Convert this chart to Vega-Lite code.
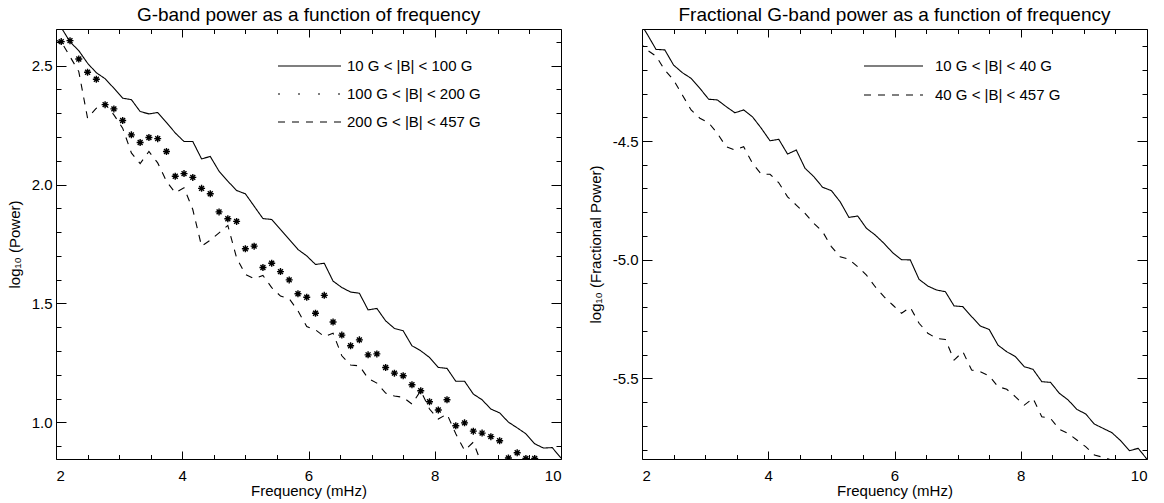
{
"$schema": "https://vega.github.io/schema/vega-lite/v6.json",
"background": "white",
"padding": {"left": 6, "top": 5, "right": 4, "bottom": 4},
"spacing": 25,
"resolve": {"scale": {"strokeDash": "independent"}, "legend": {"strokeDash": "independent"}},
"config": {
  "font": "Liberation Sans",
  "view": {"stroke": "black", "strokeWidth": 1},
  "axis": {"labelFont": "Liberation Sans", "labelFontSize": 15, "labelColor": "black", "titleFont": "Liberation Sans", "titleFontSize": 15, "titleFontWeight": "normal", "titleColor": "black", "grid": false, "domain": false, "tickColor": "black", "tickWidth": 1, "minExtent": 0},
  "title": {"font": "Liberation Sans", "fontSize": 19, "fontWeight": "normal", "color": "black", "frame": "group", "anchor": "middle"},
  "legend": {"labelFont": "Liberation Sans", "labelFontSize": 15, "labelColor": "black", "symbolStrokeColor": "black", "symbolStrokeWidth": 1.1, "padding": 0}
},
"datasets": {
  "leftLines": [
    {"f":2.083,"v":2.66,"s":"10 G < |B| < 100 G"},{"f":2.222,"v":2.60,"s":"10 G < |B| < 100 G"},{"f":2.361,"v":2.563,"s":"10 G < |B| < 100 G"},{"f":2.5,"v":2.51,"s":"10 G < |B| < 100 G"},{"f":2.639,"v":2.47,"s":"10 G < |B| < 100 G"},{"f":2.778,"v":2.445,"s":"10 G < |B| < 100 G"},{"f":2.917,"v":2.405,"s":"10 G < |B| < 100 G"},{"f":3.056,"v":2.363,"s":"10 G < |B| < 100 G"},{"f":3.194,"v":2.357,"s":"10 G < |B| < 100 G"},{"f":3.333,"v":2.307,"s":"10 G < |B| < 100 G"},{"f":3.472,"v":2.297,"s":"10 G < |B| < 100 G"},{"f":3.611,"v":2.303,"s":"10 G < |B| < 100 G"},{"f":3.75,"v":2.261,"s":"10 G < |B| < 100 G"},{"f":3.889,"v":2.217,"s":"10 G < |B| < 100 G"},{"f":4.028,"v":2.181,"s":"10 G < |B| < 100 G"},{"f":4.167,"v":2.181,"s":"10 G < |B| < 100 G"},{"f":4.306,"v":2.108,"s":"10 G < |B| < 100 G"},{"f":4.444,"v":2.118,"s":"10 G < |B| < 100 G"},{"f":4.583,"v":2.056,"s":"10 G < |B| < 100 G"},{"f":4.722,"v":2.014,"s":"10 G < |B| < 100 G"},{"f":4.861,"v":1.975,"s":"10 G < |B| < 100 G"},{"f":5.0,"v":1.961,"s":"10 G < |B| < 100 G"},{"f":5.139,"v":1.909,"s":"10 G < |B| < 100 G"},{"f":5.278,"v":1.857,"s":"10 G < |B| < 100 G"},{"f":5.417,"v":1.853,"s":"10 G < |B| < 100 G"},{"f":5.556,"v":1.811,"s":"10 G < |B| < 100 G"},{"f":5.694,"v":1.769,"s":"10 G < |B| < 100 G"},{"f":5.833,"v":1.727,"s":"10 G < |B| < 100 G"},{"f":5.972,"v":1.70,"s":"10 G < |B| < 100 G"},{"f":6.111,"v":1.664,"s":"10 G < |B| < 100 G"},{"f":6.25,"v":1.669,"s":"10 G < |B| < 100 G"},{"f":6.389,"v":1.594,"s":"10 G < |B| < 100 G"},{"f":6.528,"v":1.567,"s":"10 G < |B| < 100 G"},{"f":6.667,"v":1.548,"s":"10 G < |B| < 100 G"},{"f":6.806,"v":1.543,"s":"10 G < |B| < 100 G"},{"f":6.944,"v":1.473,"s":"10 G < |B| < 100 G"},{"f":7.083,"v":1.479,"s":"10 G < |B| < 100 G"},{"f":7.222,"v":1.427,"s":"10 G < |B| < 100 G"},{"f":7.361,"v":1.395,"s":"10 G < |B| < 100 G"},{"f":7.5,"v":1.385,"s":"10 G < |B| < 100 G"},{"f":7.639,"v":1.322,"s":"10 G < |B| < 100 G"},{"f":7.778,"v":1.301,"s":"10 G < |B| < 100 G"},{"f":7.917,"v":1.273,"s":"10 G < |B| < 100 G"},{"f":8.056,"v":1.231,"s":"10 G < |B| < 100 G"},{"f":8.194,"v":1.227,"s":"10 G < |B| < 100 G"},{"f":8.333,"v":1.173,"s":"10 G < |B| < 100 G"},{"f":8.472,"v":1.173,"s":"10 G < |B| < 100 G"},{"f":8.611,"v":1.119,"s":"10 G < |B| < 100 G"},{"f":8.75,"v":1.095,"s":"10 G < |B| < 100 G"},{"f":8.889,"v":1.056,"s":"10 G < |B| < 100 G"},{"f":9.028,"v":1.040,"s":"10 G < |B| < 100 G"},{"f":9.167,"v":1.001,"s":"10 G < |B| < 100 G"},{"f":9.306,"v":0.977,"s":"10 G < |B| < 100 G"},{"f":9.444,"v":0.952,"s":"10 G < |B| < 100 G"},{"f":9.583,"v":0.910,"s":"10 G < |B| < 100 G"},{"f":9.722,"v":0.892,"s":"10 G < |B| < 100 G"},{"f":9.861,"v":0.894,"s":"10 G < |B| < 100 G"},{"f":10.0,"v":0.850,"s":"10 G < |B| < 100 G"},
    {"f":1.944,"v":2.61,"s":"200 G < |B| < 457 G"},{"f":2.083,"v":2.60,"s":"200 G < |B| < 457 G"},{"f":2.222,"v":2.538,"s":"200 G < |B| < 457 G"},{"f":2.361,"v":2.475,"s":"200 G < |B| < 457 G"},{"f":2.5,"v":2.279,"s":"200 G < |B| < 457 G"},{"f":2.639,"v":2.321,"s":"200 G < |B| < 457 G"},{"f":2.778,"v":2.339,"s":"200 G < |B| < 457 G"},{"f":2.917,"v":2.293,"s":"200 G < |B| < 457 G"},{"f":3.056,"v":2.237,"s":"200 G < |B| < 457 G"},{"f":3.194,"v":2.133,"s":"200 G < |B| < 457 G"},{"f":3.333,"v":2.088,"s":"200 G < |B| < 457 G"},{"f":3.472,"v":2.139,"s":"200 G < |B| < 457 G"},{"f":3.611,"v":2.091,"s":"200 G < |B| < 457 G"},{"f":3.75,"v":2.014,"s":"200 G < |B| < 457 G"},{"f":3.889,"v":1.965,"s":"200 G < |B| < 457 G"},{"f":4.028,"v":1.986,"s":"200 G < |B| < 457 G"},{"f":4.167,"v":1.895,"s":"200 G < |B| < 457 G"},{"f":4.306,"v":1.741,"s":"200 G < |B| < 457 G"},{"f":4.444,"v":1.766,"s":"200 G < |B| < 457 G"},{"f":4.583,"v":1.797,"s":"200 G < |B| < 457 G"},{"f":4.722,"v":1.828,"s":"200 G < |B| < 457 G"},{"f":4.861,"v":1.692,"s":"200 G < |B| < 457 G"},{"f":5.0,"v":1.622,"s":"200 G < |B| < 457 G"},{"f":5.139,"v":1.604,"s":"200 G < |B| < 457 G"},{"f":5.278,"v":1.618,"s":"200 G < |B| < 457 G"},{"f":5.417,"v":1.567,"s":"200 G < |B| < 457 G"},{"f":5.556,"v":1.531,"s":"200 G < |B| < 457 G"},{"f":5.694,"v":1.52,"s":"200 G < |B| < 457 G"},{"f":5.833,"v":1.469,"s":"200 G < |B| < 457 G"},{"f":5.972,"v":1.403,"s":"200 G < |B| < 457 G"},{"f":6.111,"v":1.389,"s":"200 G < |B| < 457 G"},{"f":6.25,"v":1.361,"s":"200 G < |B| < 457 G"},{"f":6.389,"v":1.375,"s":"200 G < |B| < 457 G"},{"f":6.528,"v":1.280,"s":"200 G < |B| < 457 G"},{"f":6.667,"v":1.241,"s":"200 G < |B| < 457 G"},{"f":6.806,"v":1.238,"s":"200 G < |B| < 457 G"},{"f":6.944,"v":1.185,"s":"200 G < |B| < 457 G"},{"f":7.083,"v":1.165,"s":"200 G < |B| < 457 G"},{"f":7.222,"v":1.123,"s":"200 G < |B| < 457 G"},{"f":7.361,"v":1.111,"s":"200 G < |B| < 457 G"},{"f":7.5,"v":1.105,"s":"200 G < |B| < 457 G"},{"f":7.639,"v":1.077,"s":"200 G < |B| < 457 G"},{"f":7.778,"v":1.133,"s":"200 G < |B| < 457 G"},{"f":7.917,"v":1.056,"s":"200 G < |B| < 457 G"},{"f":8.056,"v":1.014,"s":"200 G < |B| < 457 G"},{"f":8.194,"v":1.035,"s":"200 G < |B| < 457 G"},{"f":8.333,"v":0.952,"s":"200 G < |B| < 457 G"},{"f":8.472,"v":0.882,"s":"200 G < |B| < 457 G"},{"f":8.611,"v":0.917,"s":"200 G < |B| < 457 G"},{"f":8.75,"v":0.82,"s":"200 G < |B| < 457 G"},{"f":8.889,"v":0.79,"s":"200 G < |B| < 457 G"},{"f":9.028,"v":0.77,"s":"200 G < |B| < 457 G"},{"f":9.167,"v":0.74,"s":"200 G < |B| < 457 G"},{"f":9.306,"v":0.72,"s":"200 G < |B| < 457 G"},{"f":9.444,"v":0.70,"s":"200 G < |B| < 457 G"},{"f":9.583,"v":0.68,"s":"200 G < |B| < 457 G"},{"f":9.722,"v":0.66,"s":"200 G < |B| < 457 G"},{"f":9.861,"v":0.64,"s":"200 G < |B| < 457 G"},{"f":10.0,"v":0.62,"s":"200 G < |B| < 457 G"}
  ],
  "leftStars": [
    {"f":2.083,"v":2.601},{"f":2.222,"v":2.605},{"f":2.361,"v":2.528},{"f":2.5,"v":2.472},{"f":2.639,"v":2.443},{"f":2.778,"v":2.336},{"f":2.917,"v":2.318},{"f":3.056,"v":2.269},{"f":3.194,"v":2.209},{"f":3.333,"v":2.177},{"f":3.472,"v":2.198},{"f":3.611,"v":2.193},{"f":3.75,"v":2.139},{"f":3.889,"v":2.035},{"f":4.028,"v":2.046},{"f":4.167,"v":2.030},{"f":4.306,"v":1.984},{"f":4.444,"v":1.961},{"f":4.583,"v":1.885},{"f":4.722,"v":1.856},{"f":4.861,"v":1.845},{"f":5.0,"v":1.730},{"f":5.139,"v":1.741},{"f":5.278,"v":1.651},{"f":5.417,"v":1.669},{"f":5.556,"v":1.634},{"f":5.694,"v":1.599},{"f":5.833,"v":1.541},{"f":5.972,"v":1.526},{"f":6.111,"v":1.459},{"f":6.25,"v":1.534},{"f":6.389,"v":1.422},{"f":6.528,"v":1.367},{"f":6.667,"v":1.322},{"f":6.806,"v":1.347},{"f":6.944,"v":1.284},{"f":7.083,"v":1.288},{"f":7.222,"v":1.231},{"f":7.361,"v":1.207},{"f":7.5,"v":1.196},{"f":7.639,"v":1.158},{"f":7.778,"v":1.133},{"f":7.917,"v":1.087},{"f":8.056,"v":1.052},{"f":8.194,"v":1.095},{"f":8.333,"v":0.986},{"f":8.472,"v":0.998},{"f":8.611,"v":0.963},{"f":8.75,"v":0.955},{"f":8.889,"v":0.940},{"f":9.028,"v":0.923},{"f":9.167,"v":0.850},{"f":9.306,"v":0.872},{"f":9.444,"v":0.848},{"f":9.583,"v":0.848},{"f":9.722,"v":0.82},{"f":9.861,"v":0.80},{"f":10.0,"v":0.78}
  ],
  "rightLines": [
    {"f":1.944,"v":-3.99,"s":"10 G < |B| < 40 G"},{"f":2.083,"v":-4.05,"s":"10 G < |B| < 40 G"},{"f":2.222,"v":-4.114,"s":"10 G < |B| < 40 G"},{"f":2.361,"v":-4.116,"s":"10 G < |B| < 40 G"},{"f":2.5,"v":-4.180,"s":"10 G < |B| < 40 G"},{"f":2.639,"v":-4.212,"s":"10 G < |B| < 40 G"},{"f":2.778,"v":-4.236,"s":"10 G < |B| < 40 G"},{"f":2.917,"v":-4.278,"s":"10 G < |B| < 40 G"},{"f":3.056,"v":-4.324,"s":"10 G < |B| < 40 G"},{"f":3.194,"v":-4.327,"s":"10 G < |B| < 40 G"},{"f":3.333,"v":-4.355,"s":"10 G < |B| < 40 G"},{"f":3.472,"v":-4.381,"s":"10 G < |B| < 40 G"},{"f":3.611,"v":-4.369,"s":"10 G < |B| < 40 G"},{"f":3.75,"v":-4.398,"s":"10 G < |B| < 40 G"},{"f":3.889,"v":-4.446,"s":"10 G < |B| < 40 G"},{"f":4.028,"v":-4.499,"s":"10 G < |B| < 40 G"},{"f":4.167,"v":-4.493,"s":"10 G < |B| < 40 G"},{"f":4.306,"v":-4.555,"s":"10 G < |B| < 40 G"},{"f":4.444,"v":-4.538,"s":"10 G < |B| < 40 G"},{"f":4.583,"v":-4.615,"s":"10 G < |B| < 40 G"},{"f":4.722,"v":-4.650,"s":"10 G < |B| < 40 G"},{"f":4.861,"v":-4.695,"s":"10 G < |B| < 40 G"},{"f":5.0,"v":-4.709,"s":"10 G < |B| < 40 G"},{"f":5.139,"v":-4.756,"s":"10 G < |B| < 40 G"},{"f":5.278,"v":-4.822,"s":"10 G < |B| < 40 G"},{"f":5.417,"v":-4.816,"s":"10 G < |B| < 40 G"},{"f":5.556,"v":-4.868,"s":"10 G < |B| < 40 G"},{"f":5.694,"v":-4.896,"s":"10 G < |B| < 40 G"},{"f":5.833,"v":-4.931,"s":"10 G < |B| < 40 G"},{"f":5.972,"v":-4.971,"s":"10 G < |B| < 40 G"},{"f":6.111,"v":-5.000,"s":"10 G < |B| < 40 G"},{"f":6.25,"v":-5.001,"s":"10 G < |B| < 40 G"},{"f":6.389,"v":-5.083,"s":"10 G < |B| < 40 G"},{"f":6.528,"v":-5.111,"s":"10 G < |B| < 40 G"},{"f":6.667,"v":-5.128,"s":"10 G < |B| < 40 G"},{"f":6.806,"v":-5.135,"s":"10 G < |B| < 40 G"},{"f":6.944,"v":-5.195,"s":"10 G < |B| < 40 G"},{"f":7.083,"v":-5.198,"s":"10 G < |B| < 40 G"},{"f":7.222,"v":-5.240,"s":"10 G < |B| < 40 G"},{"f":7.361,"v":-5.280,"s":"10 G < |B| < 40 G"},{"f":7.5,"v":-5.294,"s":"10 G < |B| < 40 G"},{"f":7.639,"v":-5.360,"s":"10 G < |B| < 40 G"},{"f":7.778,"v":-5.388,"s":"10 G < |B| < 40 G"},{"f":7.917,"v":-5.409,"s":"10 G < |B| < 40 G"},{"f":8.056,"v":-5.451,"s":"10 G < |B| < 40 G"},{"f":8.194,"v":-5.462,"s":"10 G < |B| < 40 G"},{"f":8.333,"v":-5.514,"s":"10 G < |B| < 40 G"},{"f":8.472,"v":-5.517,"s":"10 G < |B| < 40 G"},{"f":8.611,"v":-5.563,"s":"10 G < |B| < 40 G"},{"f":8.75,"v":-5.591,"s":"10 G < |B| < 40 G"},{"f":8.889,"v":-5.631,"s":"10 G < |B| < 40 G"},{"f":9.028,"v":-5.650,"s":"10 G < |B| < 40 G"},{"f":9.167,"v":-5.693,"s":"10 G < |B| < 40 G"},{"f":9.306,"v":-5.711,"s":"10 G < |B| < 40 G"},{"f":9.444,"v":-5.729,"s":"10 G < |B| < 40 G"},{"f":9.583,"v":-5.763,"s":"10 G < |B| < 40 G"},{"f":9.722,"v":-5.805,"s":"10 G < |B| < 40 G"},{"f":9.861,"v":-5.795,"s":"10 G < |B| < 40 G"},{"f":10.0,"v":-5.841,"s":"10 G < |B| < 40 G"},
    {"f":1.944,"v":-4.08,"s":"40 G < |B| < 457 G"},{"f":2.083,"v":-4.117,"s":"40 G < |B| < 457 G"},{"f":2.222,"v":-4.142,"s":"40 G < |B| < 457 G"},{"f":2.361,"v":-4.201,"s":"40 G < |B| < 457 G"},{"f":2.5,"v":-4.243,"s":"40 G < |B| < 457 G"},{"f":2.639,"v":-4.306,"s":"40 G < |B| < 457 G"},{"f":2.778,"v":-4.369,"s":"40 G < |B| < 457 G"},{"f":2.917,"v":-4.404,"s":"40 G < |B| < 457 G"},{"f":3.056,"v":-4.423,"s":"40 G < |B| < 457 G"},{"f":3.194,"v":-4.468,"s":"40 G < |B| < 457 G"},{"f":3.333,"v":-4.524,"s":"40 G < |B| < 457 G"},{"f":3.472,"v":-4.538,"s":"40 G < |B| < 457 G"},{"f":3.611,"v":-4.524,"s":"40 G < |B| < 457 G"},{"f":3.75,"v":-4.594,"s":"40 G < |B| < 457 G"},{"f":3.889,"v":-4.640,"s":"40 G < |B| < 457 G"},{"f":4.028,"v":-4.640,"s":"40 G < |B| < 457 G"},{"f":4.167,"v":-4.676,"s":"40 G < |B| < 457 G"},{"f":4.306,"v":-4.735,"s":"40 G < |B| < 457 G"},{"f":4.444,"v":-4.770,"s":"40 G < |B| < 457 G"},{"f":4.583,"v":-4.805,"s":"40 G < |B| < 457 G"},{"f":4.722,"v":-4.847,"s":"40 G < |B| < 457 G"},{"f":4.861,"v":-4.882,"s":"40 G < |B| < 457 G"},{"f":5.0,"v":-4.945,"s":"40 G < |B| < 457 G"},{"f":5.139,"v":-4.988,"s":"40 G < |B| < 457 G"},{"f":5.278,"v":-4.998,"s":"40 G < |B| < 457 G"},{"f":5.417,"v":-5.030,"s":"40 G < |B| < 457 G"},{"f":5.556,"v":-5.065,"s":"40 G < |B| < 457 G"},{"f":5.694,"v":-5.114,"s":"40 G < |B| < 457 G"},{"f":5.833,"v":-5.156,"s":"40 G < |B| < 457 G"},{"f":5.972,"v":-5.191,"s":"40 G < |B| < 457 G"},{"f":6.111,"v":-5.226,"s":"40 G < |B| < 457 G"},{"f":6.25,"v":-5.201,"s":"40 G < |B| < 457 G"},{"f":6.389,"v":-5.268,"s":"40 G < |B| < 457 G"},{"f":6.528,"v":-5.310,"s":"40 G < |B| < 457 G"},{"f":6.667,"v":-5.332,"s":"40 G < |B| < 457 G"},{"f":6.806,"v":-5.336,"s":"40 G < |B| < 457 G"},{"f":6.944,"v":-5.423,"s":"40 G < |B| < 457 G"},{"f":7.083,"v":-5.388,"s":"40 G < |B| < 457 G"},{"f":7.222,"v":-5.465,"s":"40 G < |B| < 457 G"},{"f":7.361,"v":-5.472,"s":"40 G < |B| < 457 G"},{"f":7.5,"v":-5.490,"s":"40 G < |B| < 457 G"},{"f":7.639,"v":-5.535,"s":"40 G < |B| < 457 G"},{"f":7.778,"v":-5.546,"s":"40 G < |B| < 457 G"},{"f":7.917,"v":-5.578,"s":"40 G < |B| < 457 G"},{"f":8.056,"v":-5.613,"s":"40 G < |B| < 457 G"},{"f":8.194,"v":-5.584,"s":"40 G < |B| < 457 G"},{"f":8.333,"v":-5.662,"s":"40 G < |B| < 457 G"},{"f":8.472,"v":-5.669,"s":"40 G < |B| < 457 G"},{"f":8.611,"v":-5.715,"s":"40 G < |B| < 457 G"},{"f":8.75,"v":-5.732,"s":"40 G < |B| < 457 G"},{"f":8.889,"v":-5.760,"s":"40 G < |B| < 457 G"},{"f":9.028,"v":-5.788,"s":"40 G < |B| < 457 G"},{"f":9.167,"v":-5.823,"s":"40 G < |B| < 457 G"},{"f":9.306,"v":-5.833,"s":"40 G < |B| < 457 G"},{"f":9.444,"v":-5.845,"s":"40 G < |B| < 457 G"},{"f":9.583,"v":-5.87,"s":"40 G < |B| < 457 G"},{"f":9.722,"v":-5.89,"s":"40 G < |B| < 457 G"},{"f":9.861,"v":-5.91,"s":"40 G < |B| < 457 G"},{"f":10.0,"v":-5.93,"s":"40 G < |B| < 457 G"}
  ]
},
"hconcat": [
  {
    "width": 505, "height": 430,
    "title": {"text": "G-band power as a function of frequency", "offset": 4},
    "resolve": {"axis": {"x": "independent", "y": "independent"}},
    "layer": [
      {
        "data": {"name": "leftLines"},
        "mark": {"type": "line", "color": "black", "strokeWidth": 1.1, "clip": true},
        "encoding": {
          "x": {"field": "f", "type": "quantitative", "scale": {"domain": [2, 10], "nice": false, "zero": false},
                "axis": {"orient": "bottom", "values": [2, 4, 6, 8, 10], "format": "d", "ticks": false, "labelPadding": 9, "title": "Frequency (mHz)", "titlePadding": 0}},
          "y": {"field": "v", "type": "quantitative", "scale": {"domain": [0.846, 2.654], "nice": false, "zero": false},
                "axis": {"orient": "left", "values": [1, 1.5, 2, 2.5], "format": ".1f", "ticks": false, "labelPadding": 4, "title": "log₁₀ (Power)", "titlePadding": 9}},
          "strokeDash": {"field": "s", "type": "nominal",
                "scale": {"domain": ["10 G < |B| < 100 G", "100 G < |B| < 200 G", "200 G < |B| < 457 G"], "range": [[1, 0], [2, 18], [7, 7]]},
                "legend": {"title": null, "orient": "none", "legendX": 221, "legendY": 27, "symbolType": "stroke", "symbolSize": 3969, "clipHeight": 20, "rowPadding": 8, "labelOffset": 5}}
        }
      },
      {
        "data": {"name": "leftStars"},
        "mark": {"type": "point", "shape": "M-1,0H1M0,-1V1M-0.7,-0.7L0.7,0.7M-0.7,0.7L0.7,-0.7", "size": 49, "filled": false, "stroke": "black", "strokeWidth": 1.4, "opacity": 1, "clip": true},
        "encoding": {
          "x": {"field": "f", "type": "quantitative", "axis": {"orient": "bottom", "values": [2, 4, 6, 8, 10], "labels": false, "domain": false, "title": null, "tickSize": -8}},
          "y": {"field": "v", "type": "quantitative", "axis": {"orient": "left", "values": [1, 1.5, 2, 2.5], "labels": false, "domain": false, "title": null, "tickSize": -10}}
        }
      },
      {
        "data": {"name": "leftStars"},
        "mark": {"type": "point", "opacity": 0, "clip": true},
        "encoding": {
          "x": {"field": "f", "type": "quantitative", "axis": {"orient": "bottom", "values": [2.5, 3, 3.5, 4.5, 5, 5.5, 6.5, 7, 7.5, 8.5, 9, 9.5], "labels": false, "domain": false, "title": null, "tickSize": -4.5}},
          "y": {"field": "v", "type": "quantitative", "axis": {"orient": "left", "values": [0.9, 1.1, 1.2, 1.3, 1.4, 1.6, 1.7, 1.8, 1.9, 2.1, 2.2, 2.3, 2.4, 2.6], "labels": false, "domain": false, "title": null, "tickSize": -5}}
        }
      },
      {
        "data": {"name": "leftStars"},
        "mark": {"type": "point", "opacity": 0, "clip": true},
        "encoding": {
          "x": {"field": "f", "type": "quantitative", "axis": {"orient": "top", "values": [2, 4, 6, 8, 10], "labels": false, "domain": false, "title": null, "tickSize": -8}},
          "y": {"field": "v", "type": "quantitative", "axis": {"orient": "right", "values": [1, 1.5, 2, 2.5], "labels": false, "domain": false, "title": null, "tickSize": -10}}
        }
      },
      {
        "data": {"name": "leftStars"},
        "mark": {"type": "point", "opacity": 0, "clip": true},
        "encoding": {
          "x": {"field": "f", "type": "quantitative", "axis": {"orient": "top", "values": [2.5, 3, 3.5, 4.5, 5, 5.5, 6.5, 7, 7.5, 8.5, 9, 9.5], "labels": false, "domain": false, "title": null, "tickSize": -4.5}},
          "y": {"field": "v", "type": "quantitative", "axis": {"orient": "right", "values": [0.9, 1.1, 1.2, 1.3, 1.4, 1.6, 1.7, 1.8, 1.9, 2.1, 2.2, 2.3, 2.4, 2.6], "labels": false, "domain": false, "title": null, "tickSize": -5}}
        }
      }
    ]
  },
  {
    "width": 505, "height": 430,
    "title": {"text": "Fractional G-band power as a function of frequency", "offset": 4},
    "resolve": {"axis": {"x": "independent", "y": "independent"}},
    "layer": [
      {
        "data": {"name": "rightLines"},
        "mark": {"type": "line", "color": "black", "strokeWidth": 1.1, "clip": true},
        "encoding": {
          "x": {"field": "f", "type": "quantitative", "scale": {"domain": [2, 10], "nice": false, "zero": false},
                "axis": {"orient": "bottom", "values": [2, 4, 6, 8, 10], "format": "d", "ticks": false, "labelPadding": 9, "title": "Frequency (mHz)", "titlePadding": 0}},
          "y": {"field": "v", "type": "quantitative", "scale": {"domain": [-5.84, -4.028], "nice": false, "zero": false},
                "axis": {"orient": "left", "values": [-5.5, -5, -4.5], "labelExpr": "replace(format(datum.value, '.1f'), '\u2212', '-')", "ticks": false, "labelPadding": 4, "title": "log₁₀ (Fractional Power)", "titlePadding": 9}},
          "strokeDash": {"field": "s", "type": "nominal",
                "scale": {"domain": ["10 G < |B| < 40 G", "40 G < |B| < 457 G"], "range": [[1, 0], [7, 7]]},
                "legend": {"title": null, "orient": "none", "legendX": 221, "legendY": 27, "symbolType": "stroke", "symbolSize": 3481, "clipHeight": 20, "rowPadding": 9, "labelOffset": 11}}
        }
      },
      {
        "data": {"name": "rightLines"},
        "mark": {"type": "point", "opacity": 0, "clip": true},
        "encoding": {
          "x": {"field": "f", "type": "quantitative", "axis": {"orient": "bottom", "values": [2, 4, 6, 8, 10], "labels": false, "domain": false, "title": null, "tickSize": -8}},
          "y": {"field": "v", "type": "quantitative", "axis": {"orient": "left", "values": [-5.5, -5, -4.5], "labels": false, "domain": false, "title": null, "tickSize": -10}}
        }
      },
      {
        "data": {"name": "rightLines"},
        "mark": {"type": "point", "opacity": 0, "clip": true},
        "encoding": {
          "x": {"field": "f", "type": "quantitative", "axis": {"orient": "bottom", "values": [2.5, 3, 3.5, 4.5, 5, 5.5, 6.5, 7, 7.5, 8.5, 9, 9.5], "labels": false, "domain": false, "title": null, "tickSize": -4.5}},
          "y": {"field": "v", "type": "quantitative", "axis": {"orient": "left", "values": [-5.8, -5.7, -5.6, -5.4, -5.3, -5.2, -5.1, -4.9, -4.8, -4.7, -4.6, -4.4, -4.3, -4.2, -4.1], "labels": false, "domain": false, "title": null, "tickSize": -5}}
        }
      },
      {
        "data": {"name": "rightLines"},
        "mark": {"type": "point", "opacity": 0, "clip": true},
        "encoding": {
          "x": {"field": "f", "type": "quantitative", "axis": {"orient": "top", "values": [2, 4, 6, 8, 10], "labels": false, "domain": false, "title": null, "tickSize": -8}},
          "y": {"field": "v", "type": "quantitative", "axis": {"orient": "right", "values": [-5.5, -5, -4.5], "labels": false, "domain": false, "title": null, "tickSize": -10}}
        }
      },
      {
        "data": {"name": "rightLines"},
        "mark": {"type": "point", "opacity": 0, "clip": true},
        "encoding": {
          "x": {"field": "f", "type": "quantitative", "axis": {"orient": "top", "values": [2.5, 3, 3.5, 4.5, 5, 5.5, 6.5, 7, 7.5, 8.5, 9, 9.5], "labels": false, "domain": false, "title": null, "tickSize": -4.5}},
          "y": {"field": "v", "type": "quantitative", "axis": {"orient": "right", "values": [-5.8, -5.7, -5.6, -5.4, -5.3, -5.2, -5.1, -4.9, -4.8, -4.7, -4.6, -4.4, -4.3, -4.2, -4.1], "labels": false, "domain": false, "title": null, "tickSize": -5}}
        }
      }
    ]
  }
]
}
